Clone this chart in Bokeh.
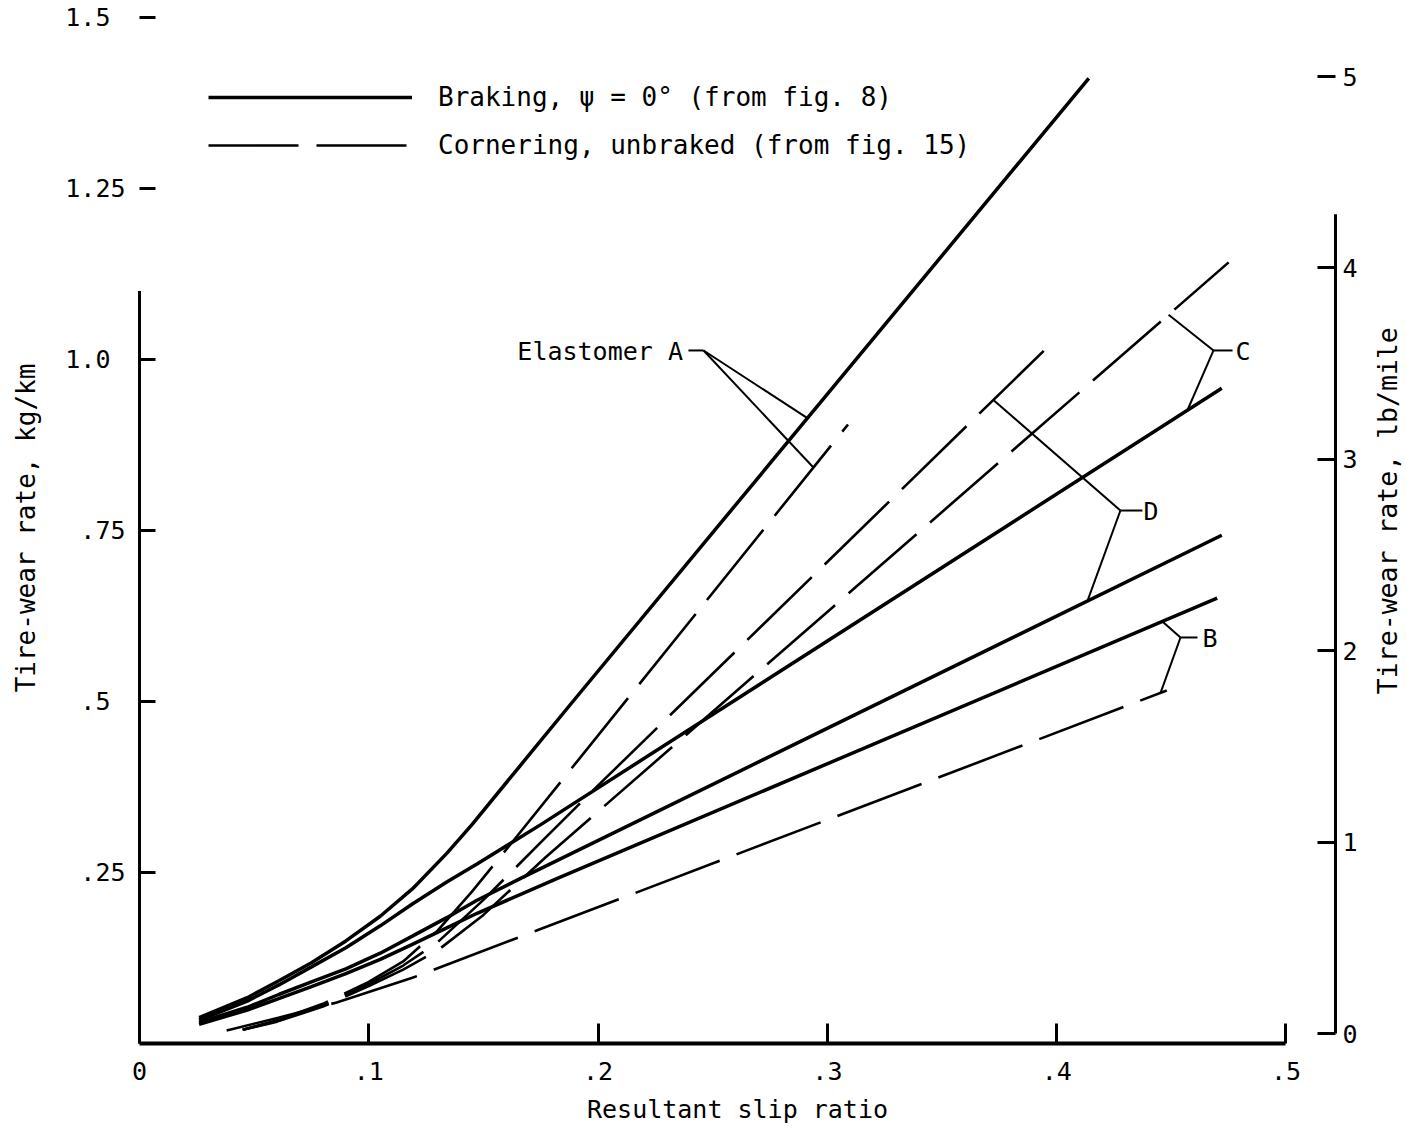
import numpy as np
from bokeh.plotting import figure
from bokeh.models import Range1d, LinearAxis, FixedTicker, Legend, LegendItem
from bokeh.core.properties import value
from bokeh.embed import file_html
from bokeh.resources import INLINE

# ---------------- data ----------------
NB = "\u00a0"
x_ticks = [0, 0.1, 0.2, 0.3, 0.4, 0.5]
x_tick_labels = ["0", ".1", ".2", ".3", ".4", ".5"]
y_ticks = [0.25, 0.5, 0.75, 1.0, 1.25, 1.5]
y_tick_labels = [".25", ".5" + NB, ".75", "1.0" + NB, "1.25", "1.5" + NB]
y2_ticks = [0, 1, 2, 3, 4, 5]
y2_tick_labels = ["0", "1", "2", "3", "4", "5"]

# Braking, psi = 0 deg (solid)
brk_A_x = [0.026, 0.047, 0.061, 0.075, 0.090, 0.105, 0.119, 0.134, 0.145, 0.165, 0.189, 0.414]
brk_A_y = [0.038, 0.067, 0.092, 0.118, 0.150, 0.186, 0.226, 0.278, 0.320, 0.402, 0.500, 1.411]
brk_C_x = [0.026, 0.047, 0.061, 0.075, 0.090, 0.105, 0.119, 0.134, 0.147, 0.175, 0.472]
brk_C_y = [0.034, 0.062, 0.086, 0.112, 0.140, 0.172, 0.204, 0.236, 0.262, 0.320, 0.958]
brk_D_x = [0.026, 0.047, 0.061, 0.075, 0.090, 0.105, 0.119, 0.134, 0.147, 0.166, 0.472]
brk_D_y = [0.031, 0.053, 0.072, 0.090, 0.109, 0.132, 0.157, 0.184, 0.209, 0.241, 0.743]
brk_B_x = [0.026, 0.047, 0.061, 0.075, 0.090, 0.105, 0.119, 0.134, 0.147, 0.182, 0.470]
brk_B_y = [0.028, 0.049, 0.066, 0.083, 0.102, 0.123, 0.145, 0.169, 0.190, 0.241, 0.651]

# Cornering, unbraked (dashed)
cor_A_x = [0.045, 0.060, 0.080, 0.100, 0.115, 0.130, 0.145, 0.162, 0.309]
cor_A_y = [0.020, 0.034, 0.058, 0.090, 0.120, 0.165, 0.222, 0.292, 0.905]
cor_D_x = [0.045, 0.060, 0.080, 0.100, 0.115, 0.130, 0.150, 0.175, 0.199, 0.396]
cor_D_y = [0.020, 0.033, 0.056, 0.087, 0.114, 0.148, 0.210, 0.294, 0.374, 1.018]
cor_C_x = [0.045, 0.060, 0.080, 0.100, 0.115, 0.130, 0.150, 0.177, 0.475]
cor_C_y = [0.020, 0.032, 0.054, 0.084, 0.108, 0.136, 0.188, 0.272, 1.142]
cor_B_x = [0.038, 0.061, 0.086, 0.119, 0.148, 0.448]
cor_B_y = [0.019, 0.038, 0.060, 0.096, 0.133, 0.516]

legend_labels = ["Braking, \u03c8 = 0\u00b0 (from fig. 8)", "Cornering, unbraked (from fig. 15)"]
right_axis_title = "Tire-wear rate, lb/mile"

# right-hand scale (lb/mile) as printed against the kg/km scale
RIGHT_ZERO_KGKM = 0.0146
RIGHT_UNIT_KGKM = 0.27982

# ---------------- figure ----------------
X_END = 0.5216
Y_END = 1.5073
FONT = "DejaVu Sans Mono"

p = figure(width=1402, height=1132, x_range=Range1d(0, X_END), y_range=Range1d(0, Y_END),
           output_backend="svg", toolbar_location=None,
           min_border_left=139, min_border_right=67, min_border_top=12, min_border_bottom=89)
p.outline_line_color = None
p.xgrid.visible = False
p.ygrid.visible = False
p.background_fill_color = "white"

p.extra_y_ranges = {"lbmile": Range1d((0 - RIGHT_ZERO_KGKM) / RIGHT_UNIT_KGKM,
                                      (Y_END - RIGHT_ZERO_KGKM) / RIGHT_UNIT_KGKM)}

def style_axis(ax):
    ax.major_label_text_font = FONT
    ax.major_label_text_font_size = "25px"
    ax.major_label_text_color = "black"
    ax.axis_label_text_font = FONT
    ax.axis_label_text_font_size = "25px"
    ax.axis_label_text_font_style = "normal"
    ax.axis_label_text_color = "black"
    ax.minor_tick_line_color = None
    ax.major_tick_out = 0
    ax.major_tick_line_width = 3
    ax.major_tick_line_color = "black"

xa = p.xaxis[0]
style_axis(xa)
xa.ticker = FixedTicker(ticks=x_ticks)
xa.major_label_overrides = {t: l for t, l in zip(x_ticks, x_tick_labels)}
xa.bounds = (0, 0.5)
xa.major_tick_in = 20
xa.axis_line_width = 4
xa.axis_line_color = "black"
xa.major_label_standoff = 18
xa.axis_label = "Resultant slip ratio"
xa.axis_label_standoff = 12

ya = p.yaxis[0]
style_axis(ya)
ya.axis_label_text_font_size = "26px"
ya.ticker = FixedTicker(ticks=y_ticks)
ya.major_label_overrides = {t: l for t, l in zip(y_ticks, y_tick_labels)}
ya.major_tick_in = 16
ya.axis_line_color = None
ya.major_label_standoff = 14
ya.axis_label = "Tire-wear rate, kg/km"
ya.axis_label_standoff = 21

ra = LinearAxis(y_range_name="lbmile", ticker=FixedTicker(ticks=y2_ticks))
style_axis(ra)
ra.major_label_overrides = {t: l for t, l in zip(y2_ticks, y2_tick_labels)}
ra.major_tick_in = 18
ra.axis_line_color = None
ra.major_label_standoff = 7
p.add_layout(ra, "right")

# right-hand axis title, reading bottom to top as printed (drawn above the frame clip)
p.text(x=[X_END + 0.0228], y=[0.779], text=[right_axis_title], angle=np.pi / 2,
       text_font=value(FONT), text_font_size=value("26.5px"), text_align="center",
       text_baseline="middle", text_color="black", level="overlay")

# axis rules (the printed rules stop short of the top ticks)
p.segment(x0=[0], y0=[0], x1=[0], y1=[1.10], line_width=3, line_color="black", level="overlay")
p.segment(x0=[X_END], y0=[RIGHT_ZERO_KGKM], x1=[X_END], y1=[RIGHT_ZERO_KGKM + 4.28 * RIGHT_UNIT_KGKM],
          line_width=3, line_color="black", level="overlay")

# ---------------- curves ----------------
SOLID_W = 3.5
DASH_W = 2.6
DASH = "90 18"
rA = p.line(brk_A_x, brk_A_y, line_width=SOLID_W, line_color="black")
p.line(brk_C_x, brk_C_y, line_width=SOLID_W, line_color="black")
p.line(brk_D_x, brk_D_y, line_width=SOLID_W, line_color="black")
p.line(brk_B_x, brk_B_y, line_width=SOLID_W, line_color="black")
rAd = p.line(cor_A_x, cor_A_y, line_width=DASH_W, line_color="black", line_dash=DASH)
p.line(cor_D_x, cor_D_y, line_width=DASH_W, line_color="black", line_dash=DASH)
p.line(cor_C_x, cor_C_y, line_width=DASH_W, line_color="black", line_dash=DASH)
p.line(cor_B_x, cor_B_y, line_width=DASH_W, line_color="black", line_dash=DASH)

# ---------------- leader lines & labels ----------------
def on(cx, cy, x):
    return float(np.interp(x, cx, cy))

leaders_x, leaders_y = [], []
def add_bracket(jx, jy, hx_end, ends):
    leaders_x.append([jx, hx_end]); leaders_y.append([jy, jy])
    for ex, ey in ends:
        leaders_x.append([jx, ex]); leaders_y.append([jy, ey])

# Elastomer A
add_bracket(0.2460, 1.0132, 0.2394,
            [(0.2913, on(brk_A_x, brk_A_y, 0.2913)), (0.2939, on(cor_A_x, cor_A_y, 0.2939))])
# C
add_bracket(0.4684, 1.0132, 0.4767,
            [(0.4488, on(cor_C_x, cor_C_y, 0.4488)), (0.4570, on(brk_C_x, brk_C_y, 0.4570))])
# D
add_bracket(0.4278, 0.7792, 0.4374,
            [(0.3724, on(cor_D_x, cor_D_y, 0.3724)), (0.4134, on(brk_D_x, brk_D_y, 0.4134))])
# B
add_bracket(0.4540, 0.5936, 0.4614,
            [(0.4461, on(brk_B_x, brk_B_y, 0.4461)), (0.4453, on(cor_B_x, cor_B_y, 0.4453))])

p.multi_line(leaders_x, leaders_y, line_width=2, line_color="black")

p.text(x=[0.2370], y=[1.011], text=["Elastomer A"], text_font=value(FONT), text_font_size=value("25px"),
       text_align="right", text_baseline="middle", text_color="black")
p.text(x=[0.4780, 0.4379, 0.4636], y=[1.011, 0.778, 0.592], text=["C", "D", "B"],
       text_font=value(FONT), text_font_size=value("25px"),
       text_align="left", text_baseline="middle", text_color="black")

legend = Legend(items=[LegendItem(label=legend_labels[0], renderers=[rA]),
                       LegendItem(label=legend_labels[1], renderers=[rAd])],
                location=(69, 883), glyph_width=204, glyph_height=30, label_height=30,
                label_standoff=26, spacing=18, padding=0, margin=0,
                border_line_color=None, background_fill_alpha=0,
                label_text_font=FONT, label_text_font_size="26px", label_text_color="black")
p.add_layout(legend)

open("out.html", "w").write(file_html(p, INLINE))
